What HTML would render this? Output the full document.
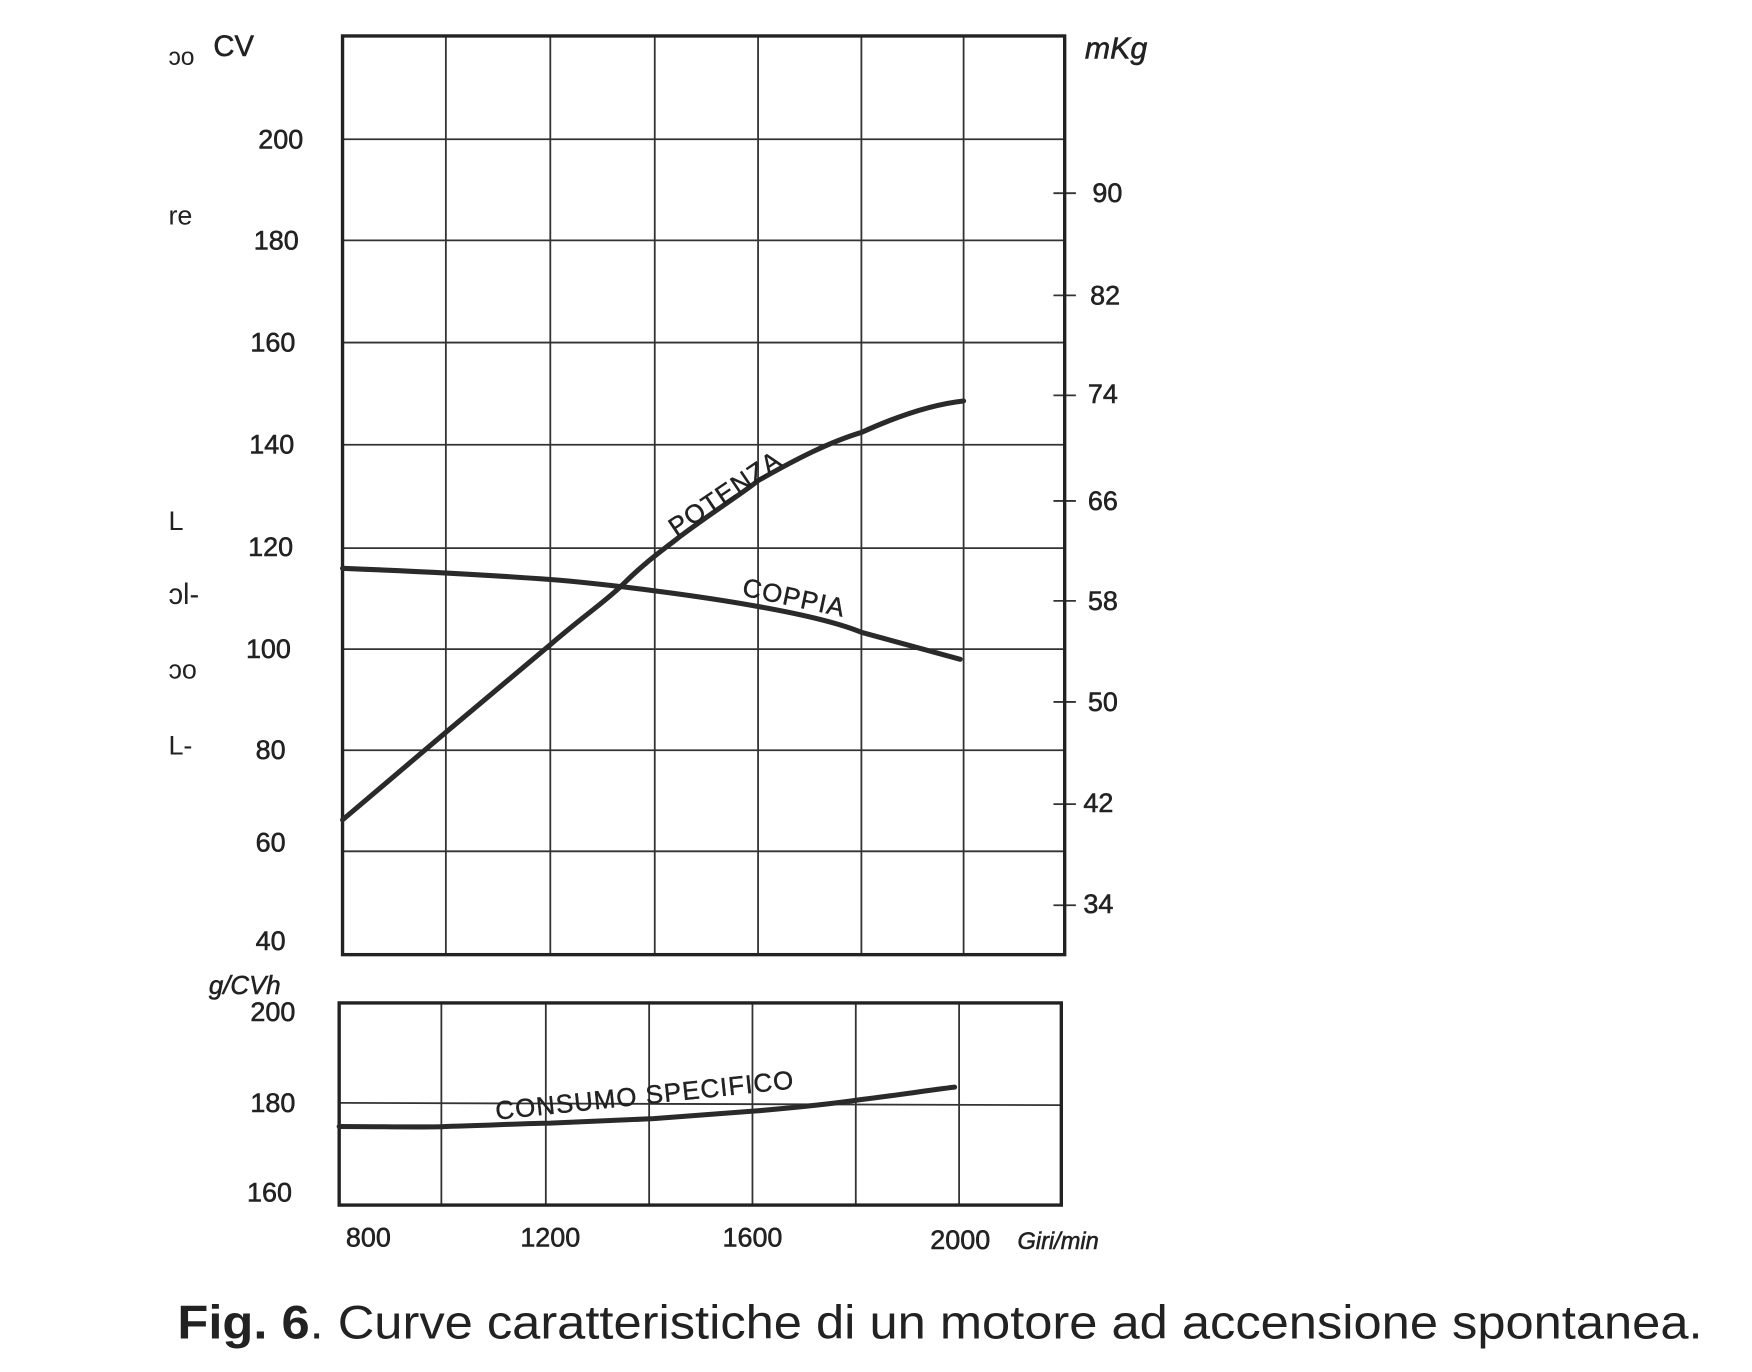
<!DOCTYPE html>
<html><head><meta charset="utf-8"><style>
html,body{margin:0;padding:0;background:#fff;}
svg{display:block}
text{font-family:"Liberation Sans",sans-serif;fill:#222;}
</style></head><body>
<svg width="1752" height="1372" viewBox="0 0 1560 1221.6" xmlns="http://www.w3.org/2000/svg">
<rect width="1560" height="1222" fill="#fff"/>
<g stroke="#333" stroke-width="1.6" fill="none">
<line x1="397" y1="32" x2="397" y2="850"/><line x1="490" y1="32" x2="490" y2="850"/>
<line x1="583" y1="32" x2="583" y2="850"/><line x1="675" y1="32" x2="675" y2="850"/>
<line x1="767" y1="32" x2="767" y2="850"/><line x1="858" y1="32" x2="858" y2="850"/>
<line x1="305" y1="124" x2="948" y2="124"/><line x1="305" y1="214" x2="948" y2="214"/>
<line x1="305" y1="305" x2="948" y2="305"/><line x1="305" y1="396" x2="948" y2="396"/>
<line x1="305" y1="488" x2="948" y2="488"/><line x1="305" y1="578" x2="948" y2="578"/>
<line x1="305" y1="668" x2="948" y2="668"/><line x1="305" y1="758" x2="948" y2="758"/>
<line x1="938" y1="172" x2="958" y2="172"/><line x1="938" y1="263" x2="958" y2="263"/>
<line x1="938" y1="352" x2="958" y2="352"/><line x1="938" y1="446" x2="958" y2="446"/>
<line x1="938" y1="535" x2="958" y2="535"/><line x1="938" y1="625" x2="958" y2="625"/>
<line x1="938" y1="716" x2="958" y2="716"/><line x1="938" y1="806" x2="958" y2="806"/>
<line x1="393" y1="893" x2="393" y2="1073"/><line x1="486" y1="893" x2="486" y2="1073"/>
<line x1="578" y1="893" x2="578" y2="1073"/><line x1="670" y1="893" x2="670" y2="1073"/>
<line x1="762" y1="893" x2="762" y2="1073"/><line x1="854" y1="893" x2="854" y2="1073"/>
<line x1="302" y1="982" x2="945" y2="984"/>
</g>
<g stroke="#222" stroke-width="3" fill="none">
<rect x="305" y="32" width="643" height="818"/>
<rect x="302" y="893" width="643" height="180"/>
</g>
<g stroke="#2a2a2a" stroke-width="4.5" fill="none" stroke-linecap="round">
<path d="M305,730 L397,652 L490,574 C520,548 540,535 555,520 C575,500 590,490 605,478 C640,452 660,440 675,428 C710,408 740,393 767,385 C800,370 830,360 858,357"/>
<path d="M305,506 C380,509 450,513 490,516 C540,520 620,530 675,540 C720,548 750,556 767,563 C800,572 830,580 855,587"/>
<path d="M302,1003 C340,1003 380,1004 397,1003 C440,1002 470,1000 490,1000 C530,998 560,997 582,996 C620,993 650,991 675,989 C710,986 740,983 767,979 C800,975 825,971 850,968"/>
</g>
<g font-size="24" stroke="#222" stroke-width="0.5">
<text x="250" y="132" text-anchor="middle">200</text>
<text x="246" y="222" text-anchor="middle">180</text>
<text x="243" y="313" text-anchor="middle">160</text>
<text x="242" y="404" text-anchor="middle">140</text>
<text x="241" y="495" text-anchor="middle">120</text>
<text x="239" y="586" text-anchor="middle">100</text>
<text x="241" y="676" text-anchor="middle">80</text>
<text x="241" y="758" text-anchor="middle">60</text>
<text x="241" y="846" text-anchor="middle">40</text>
<text x="243" y="909" text-anchor="middle">200</text>
<text x="243" y="990" text-anchor="middle">180</text>
<text x="240" y="1070" text-anchor="middle">160</text>
<text x="986" y="180" text-anchor="middle">90</text>
<text x="984" y="271" text-anchor="middle">82</text>
<text x="982" y="359" text-anchor="middle">74</text>
<text x="982" y="454" text-anchor="middle">66</text>
<text x="982" y="543" text-anchor="middle">58</text>
<text x="982" y="633" text-anchor="middle">50</text>
<text x="978" y="723" text-anchor="middle">42</text>
<text x="978" y="813" text-anchor="middle">34</text>
<text x="328" y="1110" text-anchor="middle">800</text>
<text x="490" y="1110" text-anchor="middle">1200</text>
<text x="670" y="1110" text-anchor="middle">1600</text>
<text x="855" y="1112" text-anchor="middle">2000</text>
<text x="906" y="1112" font-size="21" font-style="italic">Giri/min</text>
<text x="190" y="50" font-size="26">CV</text>
<text x="150" y="58" font-size="22" fill="#777" stroke="none">ᴐo</text>
<text x="966" y="52" font-size="27" font-style="italic">mKg</text>
<text x="186" y="885" font-size="23" font-style="italic">g/CVh</text>
<text x="150" y="200" font-size="24" fill="#777" stroke="none">re</text>
<text x="150" y="538" font-size="26" fill="#555" stroke="none">ɔl-</text>
<text x="150" y="604" font-size="24" fill="#777" stroke="none">ɔo</text>
<text x="150" y="472" font-size="24" fill="#777" stroke="none">L</text>
<text x="150" y="672" font-size="24" fill="#777" stroke="none">L-</text>
</g>
<g font-size="23" letter-spacing="1" stroke="#222" stroke-width="0.4">
<text transform="translate(602,478) rotate(-34)">POTENZA</text>
<text transform="translate(660,530) rotate(12)">COPPIA</text>
<text transform="translate(442,997) rotate(-6)">CONSUMO SPECIFICO</text>
</g>
<text x="158" y="1192" font-size="42" fill="#000" textLength="1358" lengthAdjust="spacingAndGlyphs"><tspan font-weight="bold">Fig. 6</tspan>. Curve caratteristiche di un motore ad accensione spontanea.</text>
</svg>
</body></html>
